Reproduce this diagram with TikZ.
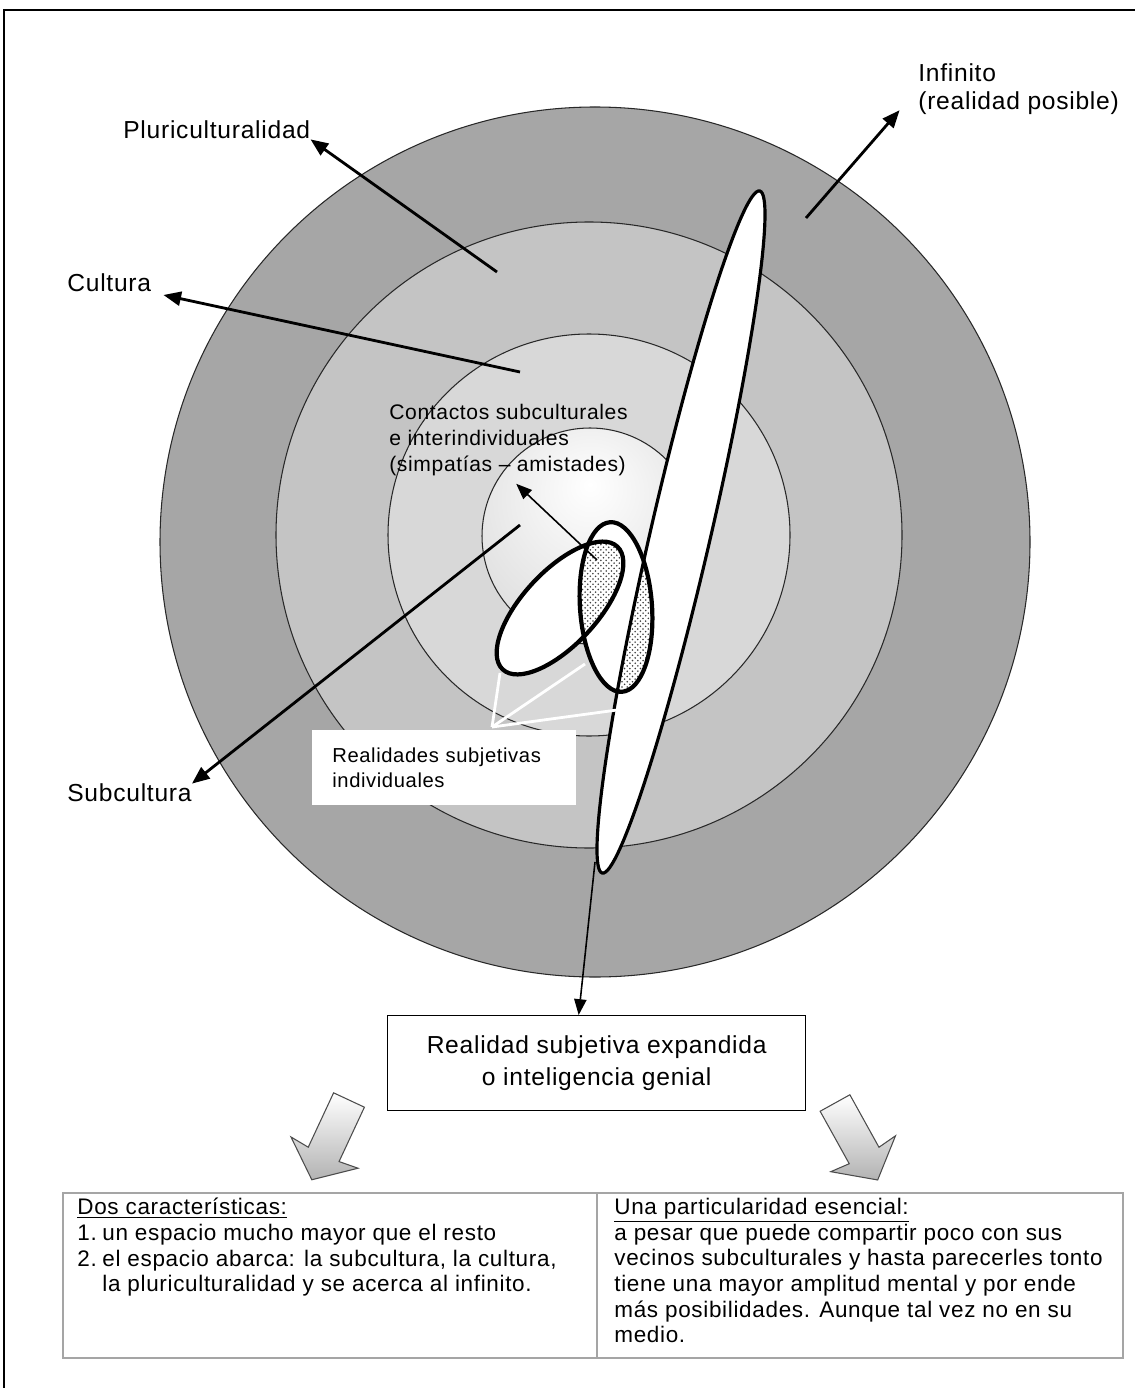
\documentclass[tikz,border=0pt]{standalone}
\usepackage{fontspec}
\setmainfont{Liberation Sans}
\newfontfamily\labelfont[LetterSpace=3]{Liberation Sans}
\newfontfamily\tablefont[LetterSpace=3]{Liberation Sans}
\usetikzlibrary{arrows.meta, patterns, positioning, calc}
\definecolor{tablegray}{RGB}{165,165,165}
\definecolor{ringedge}{RGB}{40,40,40}
\definecolor{ringOneIn}{RGB}{166,166,166}
\definecolor{ringOneOut}{RGB}{140,140,140}
\definecolor{ringTwoIn}{RGB}{196,196,196}
\definecolor{ringTwoOut}{RGB}{168,168,168}
\definecolor{ringThreeIn}{RGB}{216,216,216}
\definecolor{ringThreeOut}{RGB}{190,190,190}
\definecolor{ringFourOut}{RGB}{205,205,205}
\pgfdeclareradialshading{outerring}{\pgfpoint{0bp}{0bp}}{color(0bp)=(ringOneIn); color(36bp)=(ringOneIn); color(50bp)=(ringOneOut); color(75bp)=(ringOneOut)}
\pgfdeclareradialshading{ringtwo}{\pgfpoint{0bp}{0bp}}{color(0bp)=(ringTwoIn); color(32bp)=(ringTwoIn); color(50bp)=(ringTwoOut); color(75bp)=(ringTwoOut)}
\pgfdeclareradialshading{ringthree}{\pgfpoint{0bp}{0bp}}{color(0bp)=(ringThreeIn); color(27bp)=(ringThreeIn); color(50bp)=(ringThreeOut); color(75bp)=(ringThreeOut)}
\pgfdeclareradialshading{ringfour}{\pgfpoint{0bp}{12bp}}{color(0bp)=(white); color(50bp)=(ringFourOut); color(75bp)=(ringFourOut)}

\begin{document}
\begin{tikzpicture}[
    x=0.02cm, y=-0.02cm,
    tag/.style={font=\labelfont\fontsize{14}{16}\selectfont, inner sep=0pt, align=left},
    smalltag/.style={font=\labelfont\fontsize{12}{15}\selectfont, inner sep=0pt, align=left},
    tabletext/.style={font=\tablefont\fontsize{12.8}{14.6}\selectfont, inner sep=0pt, align=left},
    ring/.style={draw=ringedge, line width=0.6pt},
    pointer/.style={-{Triangle[length=10pt,width=8pt]}, line width=1.6pt},
    thinpointer/.style={-{Triangle[length=9pt,width=7pt]}, line width=0.9pt},
    fanline/.style={white, line width=1.6pt},
    stipple/.style={pattern=crosshatch dots, pattern color=black!75},
    bigarrow/.style={draw=black!70, line width=0.6pt, top color=white, bottom color=black!30},
    cellgray/.style={draw=tablegray, line width=1pt}
]
    \useasboundingbox (0,0) rectangle (1135,1388);
    \fill[white] (0,0) rectangle (1135,1388);
    \draw[line width=0.8pt] (4,1388) -- (4,10) -- (1135,10);

    % Rings
    \shade[ring, shading=outerring] (595,542) circle [radius=435];
    \shade[ring, shading=ringtwo] (589,535) circle [radius=313];
    \shade[ring, shading=ringthree] (589,535) circle [radius=201];
    \shade[ring, shading=ringfour] (590,536) circle [radius=108];

    % Subjective realities
    \coordinate (longC) at (681,532);
    \coordinate (leftC) at (560,608);
    \coordinate (rightC) at (616,607);
    \fill[white, rotate around={77:(longC)}] (longC) ellipse [x radius=350, y radius=30];
    \fill[white, rotate around={47:(leftC)}] (leftC) ellipse [x radius=84, y radius=37];
    \fill[white, rotate around={94:(rightC)}] (rightC) ellipse [x radius=85, y radius=36];
    \begin{scope}
        \clip[rotate around={94:(rightC)}] (rightC) ellipse [x radius=85, y radius=36];
        \fill[stipple, rotate around={47:(leftC)}] (leftC) ellipse [x radius=84, y radius=37];
        \fill[stipple, rotate around={77:(longC)}] (longC) ellipse [x radius=350, y radius=30];
    \end{scope}
    \draw[line width=1.8pt, rotate around={77:(longC)}] (longC) ellipse [x radius=350, y radius=30];
    \draw[line width=2.4pt, rotate around={47:(leftC)}] (leftC) ellipse [x radius=84, y radius=37];
    \draw[line width=2.4pt, rotate around={94:(rightC)}] (rightC) ellipse [x radius=85, y radius=36];

    % Labels
    \node[tag, anchor=west] (pluri) at (123,130) {Pluriculturalidad};
    \node[tag, anchor=west] (cult) at (67,283) {Cultura};
    \node[tag, anchor=west] (subcult) at (67,793) {Subcultura};
    \node[tag, anchor=west] (infin) at (918,89) {Infinito\\(realidad posible)};
    \node[smalltag, anchor=west] (contact) at (389,440) {Contactos subculturales\\e interindividuales\\(simpatías – amistades)};

    % Connections
    \coordinate (pluriTail) at (497,272);
    \coordinate (cultTail) at (520,372);
    \coordinate (subTail) at (520,525);
    \coordinate (infTail) at (806,218);
    \coordinate (contactTail) at (597,560);
    \coordinate (expandTail) at (595,862);
    \draw[pointer] (pluriTail) -- (pluri.south east);
    \draw[pointer, shorten >=7pt] (cultTail) -- (cult.south east);
    \draw[pointer] (subTail) -- (subcult.north east);
    \draw[pointer, shorten >=16pt] (infTail) -- (infin.west);
    \draw[thinpointer, shorten >=6pt] (contactTail) -- (contact.south);

    % Individual realities
    \coordinate (fan) at (492,727);
    \coordinate (fanA) at (500,673);
    \coordinate (fanB) at (585,664);
    \coordinate (fanC) at (617,710);
    \draw[fanline] (fan) -- (fanA);
    \draw[fanline] (fan) -- (fanB);
    \draw[fanline] (fan) -- (fanC);
    \node[fill=white, minimum width=5.28cm, minimum height=1.5cm, text width=4.48cm, inner xsep=0.4cm,
          align=left, anchor=north west, font=\labelfont\fontsize{11.5}{14}\selectfont] (indiv) at (312,730)
          {Realidades subjetivas\\individuales};

    % Expanded reality
    \node[draw, line width=0.8pt, minimum width=8.36cm, minimum height=1.9cm, align=center, anchor=north west,
          font=\labelfont\fontsize{14}{18}\selectfont] (expand) at (387,1015)
          {Realidad subjetiva expandida\\o inteligencia genial};
    \draw[thinpointer] (expandTail) -- ([xshift=-0.36cm]expand.north);

    % Block arrows
    \draw[bigarrow, shift={(349,1100)}, rotate=-115] (0,-17) -- (60,-17) -- (58,-37) -- (88,0) -- (58,37) -- (60,17) -- (0,17) -- cycle;
    \draw[bigarrow, shift={(835,1103)}, rotate=-61] (0,-17) -- (60,-17) -- (58,-37) -- (88,0) -- (58,37) -- (60,17) -- (0,17) -- cycle;

    % Table
    \draw[cellgray] (63,1193) rectangle (1123,1358);
    \draw[cellgray] (597,1193) -- (597,1358);
    \node[tabletext, anchor=north west] (traits) at (77,1198)
        {\underline{Dos características:}\\
         \makebox[0.5cm][l]{1.}un espacio mucho mayor que el resto\\
         \makebox[0.5cm][l]{2.}el espacio abarca: la subcultura, la cultura,\\
         \hspace*{0.5cm}la pluriculturalidad y se acerca al infinito.};
    \node[tabletext, anchor=north west] (feature) at (614,1198)
        {\underline{Una particularidad esencial:}\\
         a pesar que puede compartir poco con sus\\
         vecinos subculturales y hasta parecerles tonto\\
         tiene una mayor amplitud mental y por ende\\
         más posibilidades. Aunque tal vez no en su\\
         medio.};
\end{tikzpicture}
\end{document}
